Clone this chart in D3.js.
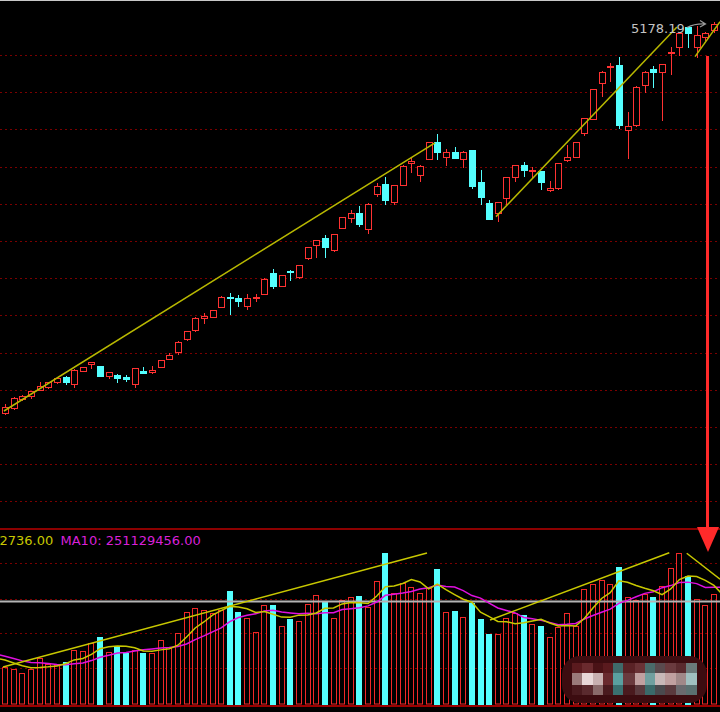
<!DOCTYPE html>
<html><head><meta charset="utf-8">
<script src="https://cdn.jsdelivr.net/npm/d3@7"></script>
<style>html,body{margin:0;padding:0;background:#000;overflow:hidden}svg{display:block}</style>
</head><body>
<svg id="c" width="720" height="712"></svg>
<script>
// ---- data (daily index candles) ----
const openP = [3075,3102,3150,3168,3200,3215,3241,3270,3231,3302,
3338,3329,3272,3279,3267,3231,3300,3297,3323,3368,
3404,3472,3520,3588,3591,3645,3701,3695,3650,3692,
3717,3829,3758,3839,3808,3906,3977,4017,3949,4071,
4122,4151,4062,4255,4308,4212,4303,4419,4357,4441,
4532,4449,4481,4441,4487,4315,4205,4151,4232,4342,
4406,4376,4374,4276,4283,4433,4451,4582,4658,4851,
4934,4945,4598,4621,4839,4923,4910,5009,5045,5149,
5045,5095,5134,5174];
const highP = [3123,3161,3172,3196,3243,3244,3265,3273,3311,3324,
3349,3330,3298,3287,3282,3319,3320,3330,3362,3397,
3461,3517,3590,3615,3630,3702,3722,3708,3713,3713,
3799,3847,3818,3842,3871,3968,4005,4030,4040,4131,
4169,4187,4204,4312,4346,4303,4407,4449,4410,4534,
4576,4494,4508,4483,4488,4380,4223,4209,4343,4407,
4423,4398,4375,4321,4421,4517,4534,4662,4818,4912,
4955,4988,4691,4831,4912,4943,4952,5045,5118,5150,
5155,5125,5178.19,5177];
const lowP = [3070,3096,3147,3155,3198,3212,3239,3231,3216,3300,
3316,3273,3263,3240,3247,3213,3288,3290,3322,3367,
3391,3469,3517,3558,3590,3643,3610,3650,3633,3677,
3716,3749,3756,3788,3799,3904,3913,3913,3944,4070,
4101,4079,4044,4244,4201,4200,4300,4369,4324,4440,
4441,4410,4445,4398,4287,4199,4118,4110,4199,4324,
4347,4339,4281,4271,4281,4432,4450,4571,4657,4780,
4861,4609,4448,4619,4803,4827,4651,4898,5000,5045,
4991,5080,5125,5048];
const closeP = [3109,3155,3168,3193,3221,3241,3263,3243,3307,3322,
3347,3275,3297,3261,3260,3315,3293,3304,3359,3386,
3457,3515,3588,3597,3627,3699,3694,3677,3695,3701,
3797,3758,3815,3834,3869,3967,4003,3967,4039,4130,
4151,4092,4201,4298,4223,4300,4405,4428,4401,4530,
4478,4478,4446,4481,4298,4237,4119,4208,4342,4406,
4383,4383,4315,4285,4419,4449,4532,4661,4816,4910,
4941,4621,4616,4830,4910,4910,4950,5018,5116,5116,
5107,5116,5165,5063];
// volume, millions
const volume = [80.9,76.6,68.0,76.6,100.2,88.0,85.8,91.6,118.0,115.9,
132.4,146.6,113.1,125.1,112.2,118.0,110.9,110.9,139.5,125.1,
155.2,198.9,207.5,203.9,198.1,203.9,244.6,200.2,186.1,157.3,
214.6,214.6,170.2,183.9,180.9,216.7,236.1,220.4,186.1,225.3,
232.4,233.9,211.0,266.7,325.5,239.7,261.2,253.9,239.7,251.7,
291.2,200.2,202.4,189.5,219.5,183.9,152.4,151.7,186.1,198.1,
193.1,173.2,168.5,146.6,166.7,196.8,169.5,248.3,259.7,268.3,
259.7,296.8,232.4,225.3,238.2,232.4,256.0,293.4,325.5,276.8,
227.5,214.6,238.2,225.3];
const prevVolume = [128.8,124.5,118.0,111.6,107.3,100.9,107.3,98.7,96.6,98.7];
const priceGrid = [5000,4800,4600,4400,4200,4000,3800,3600,3400,3200,3000,2800,2600];
const volGrid = [79.4,154.5,228.5,303.7];
const volRefLevel = 222;
const peakLabel = "5178.19";
const ma5Label = "2736.00";
const ma10Label = "MA10: 251129456.00";
// hand-drawn trend lines: [index, value] pairs
const priceTrends = [[[-0.12,3086],[49.73,4528]],[[56.79,4131],[77.72,5150]],[[79.81,4991],[82.7,5178.5]]];
const volTrends = [[[-0.23,81.5],[48.81,326.2]],[[56.1,182.4],[76.83,326.8]],[[78.85,325.6],[82.7,269.8]]];
// mosaic (blurred watermark) cell colours
const mosaicRows = [
 ["#5a1a1e","#6a2a2e","#4a1216","#5a1a1e","#3f6a6a","#5a2226","#6a3236","#4a6a6a","#5a4a4e","#6a3a3e","#5a2a2e","#6a7a7a"],
 ["#9a7a7a","#e8d8d8","#c8b0b0","#6a2a2e","#5aa0a0","#6a3a3e","#c0a0a0","#70a0a0","#c8b8b8","#c0a0a0","#a08888","#a0c0c0"],
 ["#4a1a1e","#5a2a2e","#8a6a6a","#4a1a1e","#3a7070","#4a1a1e","#5a3a3e","#3a6a6a","#4a4a4e","#5a3a3e","#6a6a6e","#5a7070"]];

const UP = "#ff3232", DOWN = "#54ffff", GRID = "#7a0000";
const svg = d3.select("#c");
svg.append("rect").attr("width",720).attr("height",712).attr("fill","#000");
const n = openP.length;
const x = d3.scaleLinear().domain([0, n-1]).range([5, 5 + 8.646*(n-1)]);
const y = d3.scaleLinear().domain([2600, 5000]).range([501.4, 55]);
const vy = d3.scaleLinear().domain([0, 379.8]).range([705, 528]);

const defs = svg.append("defs");
defs.append("clipPath").attr("id","cp").append("rect").attr("x",0).attr("y",1).attr("width",720).attr("height",527);
defs.append("clipPath").attr("id","cv").append("rect").attr("x",0).attr("y",530).attr("width",720).attr("height",175);

// top border
svg.append("line").attr("x1",0).attr("x2",720).attr("y1",0.5).attr("y2",0.5).attr("stroke","#c8c8c8");

// price grid
const gP = svg.append("g").attr("clip-path","url(#cp)");
gP.selectAll("line.g").data(priceGrid).join("line")
  .attr("x1",0).attr("x2",720)
  .attr("y1",d=>Math.round(y(d))+0.5).attr("y2",d=>Math.round(y(d))+0.5)
  .attr("stroke",GRID).attr("stroke-dasharray","2,3");

// candles
const idx = d3.range(n);
const cg = gP.append("g");
idx.forEach(i=>{
  const up = closeP[i] >= openP[i];
  const col = up ? UP : DOWN;
  const cx = Math.round(x(i)) + 0.5;
  const top = Math.round(y(Math.max(openP[i],closeP[i])));
  const bot = Math.round(y(Math.min(openP[i],closeP[i])));
  cg.append("line").attr("x1",cx).attr("x2",cx)
    .attr("y1",Math.round(y(highP[i]))).attr("y2",Math.round(y(lowP[i]))+1)
    .attr("stroke",col);
  if (up) {
    cg.append("rect").attr("x",cx-3).attr("y",top+0.5).attr("width",6).attr("height",Math.max(bot-top,1))
      .attr("fill","#000").attr("stroke",col);
  } else {
    cg.append("rect").attr("x",cx-3.5).attr("y",top).attr("width",7).attr("height",Math.max(bot-top,1)+1)
      .attr("fill",col);
  }
});

// price trend lines
gP.selectAll("line.t").data(priceTrends).join("line")
  .attr("x1",d=>x(d[0][0])).attr("y1",d=>y(d[0][1]))
  .attr("x2",d=>x(d[1][0])).attr("y2",d=>y(d[1][1]))
  .attr("stroke","#b8b800").attr("stroke-width",1.5);

// peak label
svg.append("text").attr("x",631).attr("y",33).text(peakLabel)
  .attr("font-family","DejaVu Sans").attr("font-size",13).attr("fill","#c4c4c4");
svg.append("path").attr("d","M687,27.5 Q695,23.5 705,24 M700,20.5 L705.5,24 L700,27")
  .attr("fill","none").attr("stroke","#9a9a9a").attr("stroke-width",1.2);

// panel separator
svg.append("line").attr("x1",0).attr("x2",720).attr("y1",529).attr("y2",529).attr("stroke","#8c0000").attr("stroke-width",2);

// volume panel
const gV = svg.append("g").attr("clip-path","url(#cv)");
gV.selectAll("line.g").data(volGrid).join("line")
  .attr("x1",0).attr("x2",720)
  .attr("y1",d=>Math.round(vy(d))+0.5).attr("y2",d=>Math.round(vy(d))+0.5)
  .attr("stroke",GRID).attr("stroke-dasharray","2,3");
idx.forEach(i=>{
  const up = closeP[i] >= openP[i];
  const cx = Math.round(x(i));
  const t = Math.round(vy(volume[i]));
  if (up) {
    gV.append("rect").attr("x",cx-2.5).attr("y",t+0.5).attr("width",5).attr("height",704-t-0.5)
      .attr("fill","none").attr("stroke","#f02828");
  } else {
    gV.append("rect").attr("x",cx-3).attr("y",t).attr("width",6).attr("height",705-t)
      .attr("fill",DOWN);
  }
});
// reference horizontal line
gV.append("line").attr("x1",0).attr("x2",720).attr("y1",vy(volRefLevel)).attr("y2",vy(volRefLevel))
  .attr("stroke","#b4b4b4").attr("stroke-width",2);
// moving averages
const allV = prevVolume.concat(volume);
const off = prevVolume.length;
const maPts = k => d3.range(off-1, allV.length).map(j=>[j-off, d3.mean(allV.slice(j-k+1, j+1))]);
const lineGen = d3.line().x(d=>x(d[0])).y(d=>vy(d[1]));
gV.append("path").attr("d",lineGen(maPts(10))).attr("fill","none").attr("stroke","#e010e0").attr("stroke-width",1.5);
gV.append("path").attr("d",lineGen(maPts(5))).attr("fill","none").attr("stroke","#c8c800").attr("stroke-width",1.5);
gV.selectAll("line.t").data(volTrends).join("line")
  .attr("x1",d=>x(d[0][0])).attr("y1",d=>vy(d[0][1]))
  .attr("x2",d=>x(d[1][0])).attr("y2",d=>vy(d[1][1]))
  .attr("stroke","#c8c800").attr("stroke-width",1.5);

// mosaic blur block
const mg = svg.append("g");
mg.append("rect").attr("x",562).attr("y",656).attr("width",145).attr("height",47).attr("rx",18)
  .attr("fill","#3c0c10");
const colX = [572,582,593,603,613,623,635,645,655,665,676,686,697];
const rowY = [663,673,685,695];
mosaicRows.forEach((row,r)=>row.forEach((c,k)=>{
  mg.append("rect").attr("x",colX[k]).attr("y",rowY[r]).attr("width",colX[k+1]-colX[k]).attr("height",rowY[r+1]-rowY[r]).attr("fill",c);
}));

// bottom line
svg.append("line").attr("x1",0).attr("x2",720).attr("y1",706).attr("y2",706).attr("stroke","#9a0000").attr("stroke-width",2);

// volume labels
svg.append("text").attr("x",-0.5).attr("y",544.5).text(ma5Label)
  .attr("font-family","DejaVu Sans").attr("font-size",13).attr("fill","#c8c800");
svg.append("text").attr("x",60.5).attr("y",544.5).text(ma10Label)
  .attr("font-family","DejaVu Sans").attr("font-size",13).attr("fill","#d820d8");

// red arrow annotation
svg.append("line").attr("x1",707.5).attr("x2",707.5).attr("y1",56).attr("y2",532)
  .attr("stroke","#ff2a2a").attr("stroke-width",3);
svg.append("path").attr("d","M697,527 L719,527 L708,552 Z").attr("fill","#ff2a2a");
</script>
</body></html>
